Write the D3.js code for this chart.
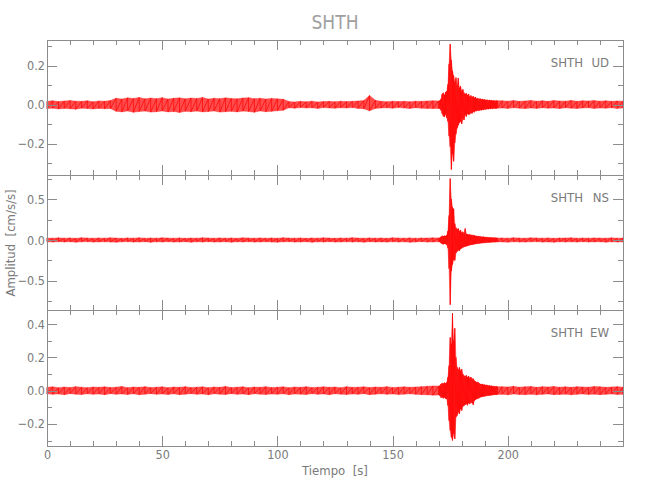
<!DOCTYPE html>
<html>
<head>
<meta charset="utf-8">
<script src="https://cdn.jsdelivr.net/npm/d3@7"></script>
<style>
  body { margin: 0; background: #fff; }
  svg text { font-family: "DejaVu Sans Condensed", "DejaVu Sans", sans-serif; font-stretch: condensed; fill: #7a7a7a; }
  .axis path, .axis line { stroke: #8c8c8c; shape-rendering: crispEdges; }
</style>
</head>
<body>
<div id="chart"></div>
<script>
// Time grid (s): coarse before the event, fine through it, coarse after
const timeBefore = d3.range(0, 170, 2.5);
const timeEvent = d3.range(170, 196, 0.5);
const timeAfter = d3.range(197.5, 250.1, 2.5);
const times = timeBefore.concat(timeEvent, timeAfter);

const station = "SHTH";
const components = ["UD", "NS", "EW"];

// Envelope of each trace (cm/s/s), upper and lower
const udUpper = [
  0.018,0.021,0.017,0.020,0.022,0.019,0.018,0.021,0.016,0.020,0.019,0.022,
  0.034,0.030,0.036,0.033,0.038,0.031,0.035,0.032,0.037,0.030,0.034,0.036,0.031,0.035,0.033,
  0.038,0.030,0.034,0.032,0.036,0.033,0.031,0.035,0.037,0.032,0.034,0.030,0.033,0.031,0.029,
  0.017,0.015,0.018,0.016,0.019,0.015,0.017,0.018,0.016,0.019,0.017,0.018,0.020,0.022,0.048,
  0.024,0.018,0.016,0.019,0.017,0.018,0.016,0.019,0.018,0.020,0.021,
  // event
  0.020,0.022,0.030,0.055,0.062,0.050,0.066,0.070,0.105,0.210,
  0.312,0.230,0.175,0.150,0.118,0.140,0.100,0.138,0.088,0.096,
  0.072,0.080,0.062,0.055,0.060,0.050,0.056,0.042,0.048,0.040,
  0.044,0.036,0.040,0.032,0.034,0.030,0.032,0.028,0.030,0.026,
  0.028,0.024,0.026,0.023,0.025,0.022,0.024,0.021,0.023,0.020,
  0.022,0.021,
  // after
  0.021,0.019,0.022,0.018,0.020,0.023,0.019,0.021,0.018,0.022,0.020,
  0.019,0.023,0.018,0.021,0.020,0.022,0.019,0.021,0.018,0.020,0.019
];
const udLower = [
  -0.019,-0.017,-0.021,-0.018,-0.020,-0.022,-0.017,-0.019,-0.021,-0.018,-0.020,-0.019,
  -0.033,-0.036,-0.031,-0.038,-0.034,-0.032,-0.037,-0.035,-0.031,-0.036,-0.034,-0.039,-0.033,-0.035,-0.032,
  -0.036,-0.034,-0.031,-0.037,-0.035,-0.033,-0.036,-0.032,-0.034,-0.038,-0.031,-0.035,-0.033,-0.030,-0.028,
  -0.015,-0.017,-0.014,-0.016,-0.015,-0.018,-0.014,-0.016,-0.017,-0.015,-0.016,-0.014,-0.018,-0.020,-0.030,
  -0.018,-0.016,-0.015,-0.017,-0.014,-0.016,-0.018,-0.015,-0.017,-0.018,-0.019,
  -0.018,-0.020,-0.028,-0.045,-0.058,-0.062,-0.050,-0.066,-0.085,-0.160,
  -0.215,-0.332,-0.250,-0.290,-0.195,-0.150,-0.120,-0.105,-0.092,-0.085,
  -0.098,-0.070,-0.078,-0.052,-0.060,-0.046,-0.050,-0.048,-0.040,-0.044,
  -0.035,-0.038,-0.030,-0.032,-0.028,-0.030,-0.026,-0.028,-0.024,-0.026,
  -0.022,-0.024,-0.020,-0.022,-0.019,-0.021,-0.018,-0.020,-0.017,-0.019,
  -0.018,-0.017,
  -0.016,-0.018,-0.015,-0.017,-0.019,-0.016,-0.018,-0.015,-0.017,-0.016,-0.019,
  -0.015,-0.017,-0.018,-0.016,-0.015,-0.018,-0.016,-0.017,-0.015,-0.018,-0.016
];

const nsUpper = [
  0.024,0.021,0.026,0.022,0.025,0.020,0.027,0.023,0.021,0.025,
  0.022,0.026,0.023,0.020,0.025,0.022,0.027,0.021,0.024,0.022,
  0.026,0.023,0.021,0.025,0.020,0.024,0.022,0.027,0.023,0.021,
  0.025,0.022,0.024,0.020,0.026,0.023,0.021,0.025,0.022,0.024,
  0.021,0.027,0.023,0.022,0.025,0.020,0.024,0.022,0.026,0.023,
  0.021,0.024,0.022,0.028,0.023,0.021,0.025,0.022,0.024,0.020,
  0.026,0.023,0.022,0.025,0.021,0.024,0.023,0.026,
  0.024,0.026,0.040,0.050,0.046,0.052,0.048,0.060,0.110,0.300,
  0.750,0.500,0.400,0.380,0.200,0.150,0.130,0.140,0.110,0.120,
  0.090,0.100,0.080,0.140,0.075,0.070,0.065,0.068,0.060,0.062,
  0.055,0.058,0.050,0.048,0.045,0.047,0.042,0.040,0.038,0.040,
  0.035,0.036,0.033,0.032,0.030,0.031,0.028,0.029,0.027,0.028,
  0.026,0.025,
  0.025,0.022,0.027,0.023,0.021,0.026,0.024,0.022,0.025,0.020,0.024,
  0.023,0.026,0.021,0.024,0.022,0.025,0.023,0.021,0.026,0.022,0.024
];
const nsLower = [
  -0.022,-0.025,-0.020,-0.024,-0.021,-0.026,-0.022,-0.020,-0.025,-0.023,
  -0.021,-0.024,-0.026,-0.022,-0.020,-0.025,-0.023,-0.021,-0.027,-0.022,
  -0.024,-0.020,-0.025,-0.023,-0.021,-0.026,-0.022,-0.024,-0.020,-0.025,
  -0.023,-0.021,-0.026,-0.022,-0.024,-0.020,-0.025,-0.023,-0.021,-0.024,
  -0.026,-0.022,-0.020,-0.025,-0.023,-0.021,-0.027,-0.022,-0.024,-0.020,
  -0.025,-0.023,-0.021,-0.024,-0.022,-0.026,-0.020,-0.024,-0.023,-0.025,
  -0.021,-0.024,-0.022,-0.026,-0.023,-0.020,-0.025,-0.024,
  -0.022,-0.025,-0.038,-0.048,-0.052,-0.045,-0.050,-0.058,-0.100,-0.350,
  -0.790,-0.380,-0.300,-0.240,-0.250,-0.160,-0.140,-0.125,-0.130,-0.110,
  -0.100,-0.090,-0.085,-0.080,-0.075,-0.070,-0.068,-0.062,-0.060,-0.056,
  -0.055,-0.050,-0.048,-0.046,-0.044,-0.042,-0.040,-0.038,-0.037,-0.035,
  -0.034,-0.033,-0.031,-0.030,-0.029,-0.028,-0.027,-0.026,-0.025,-0.026,
  -0.024,-0.023,
  -0.023,-0.026,-0.021,-0.024,-0.025,-0.022,-0.020,-0.025,-0.023,-0.026,-0.021,
  -0.024,-0.022,-0.025,-0.020,-0.024,-0.023,-0.021,-0.026,-0.022,-0.024,-0.023
];

const ewUpper = [
  0.020,0.023,0.018,0.022,0.019,0.024,0.021,0.018,0.022,0.020,
  0.023,0.019,0.021,0.025,0.018,0.022,0.020,0.024,0.019,0.021,
  0.023,0.018,0.022,0.020,0.024,0.019,0.021,0.023,0.018,0.022,
  0.020,0.025,0.019,0.021,0.023,0.018,0.022,0.020,0.024,0.019,
  0.021,0.023,0.018,0.022,0.020,0.024,0.019,0.021,0.023,0.020,
  0.022,0.018,0.024,0.020,0.021,0.023,0.019,0.022,0.020,0.024,
  0.019,0.021,0.023,0.020,0.022,0.024,0.026,0.028,
  0.028,0.030,0.040,0.045,0.042,0.048,0.044,0.050,0.080,0.150,
  0.320,0.280,0.465,0.300,0.375,0.200,0.140,0.125,0.140,0.120,
  0.130,0.100,0.090,0.085,0.092,0.080,0.088,0.075,0.082,0.070,
  0.072,0.060,0.055,0.050,0.052,0.045,0.040,0.038,0.040,0.035,
  0.036,0.033,0.034,0.030,0.031,0.028,0.029,0.026,0.027,0.025,
  0.026,0.024,
  0.024,0.022,0.026,0.021,0.023,0.025,0.020,0.024,0.022,0.025,0.021,
  0.023,0.020,0.024,0.022,0.021,0.025,0.023,0.020,0.022,0.024,0.021
];
const ewLower = [
  -0.019,-0.022,-0.020,-0.024,-0.018,-0.021,-0.023,-0.019,-0.022,-0.020,
  -0.024,-0.018,-0.022,-0.020,-0.023,-0.019,-0.025,-0.021,-0.018,-0.022,
  -0.020,-0.023,-0.019,-0.024,-0.021,-0.018,-0.022,-0.020,-0.025,-0.019,
  -0.021,-0.023,-0.018,-0.022,-0.020,-0.024,-0.019,-0.021,-0.023,-0.020,
  -0.022,-0.019,-0.024,-0.020,-0.021,-0.023,-0.018,-0.022,-0.020,-0.024,
  -0.019,-0.021,-0.023,-0.020,-0.022,-0.018,-0.024,-0.021,-0.019,-0.022,
  -0.020,-0.023,-0.021,-0.019,-0.022,-0.024,-0.025,-0.027,
  -0.026,-0.030,-0.042,-0.040,-0.046,-0.042,-0.048,-0.050,-0.090,-0.180,
  -0.240,-0.280,-0.300,-0.260,-0.290,-0.160,-0.150,-0.130,-0.140,-0.110,
  -0.120,-0.095,-0.090,-0.085,-0.080,-0.088,-0.075,-0.080,-0.070,-0.075,
  -0.085,-0.060,-0.055,-0.050,-0.048,-0.045,-0.040,-0.038,-0.036,-0.035,
  -0.034,-0.032,-0.031,-0.030,-0.029,-0.028,-0.027,-0.026,-0.025,-0.024,
  -0.025,-0.023,
  -0.022,-0.025,-0.020,-0.023,-0.024,-0.021,-0.025,-0.022,-0.020,-0.024,-0.023,
  -0.021,-0.025,-0.022,-0.020,-0.023,-0.021,-0.024,-0.022,-0.020,-0.023,-0.022
];

// Axis ranges and ticks per panel
const yDomains = [[-0.36, 0.333], [-0.854, 0.793], [-0.333, 0.485]];
const yMajor = [[-0.2, 0, 0.2], [-0.5, 0, 0.5], [-0.2, 0, 0.2, 0.4]];
const yMinor = [[-0.3, -0.1, 0.1, 0.3], [-0.75, -0.25, 0.25, 0.75], [-0.3, -0.1, 0.1, 0.3]];
const xMajor = [0, 50, 100, 150, 200];
const xMinor = [10, 20, 30, 40, 60, 70, 80, 90, 110, 120, 130, 140, 160, 170, 180, 190, 210, 220, 230, 240];

const uppers = [udUpper, nsUpper, ewUpper];
const lowers = [udLower, nsLower, ewLower];

const width = 650, height = 500;
const left = 47, right = 623;
const panelTops = [40, 175, 310];
const panelBottoms = [175, 310, 446];

const svg = d3.select("#chart").append("svg")
    .attr("width", width)
    .attr("height", height);

const x = d3.scaleLinear().domain([0, 250]).range([left, right]);
const fmt = d3.format(".1f");

components.forEach(function (comp, i) {
    const top = panelTops[i], bottom = panelBottoms[i];
    const y = d3.scaleLinear().domain(yDomains[i]).range([bottom, top]);
    const rows = times.map(function (t, k) { return { t: t, hi: uppers[i][k], lo: lowers[i][k] }; });

    const g = svg.append("g");

    // trace envelope
    const area = d3.area()
        .x(function (d) { return x(d.t); })
        .y0(function (d) { return y(d.lo); })
        .y1(function (d) { return y(d.hi); });
    g.append("path")
        .datum(rows)
        .attr("d", area)
        .attr("fill", "#ff2020")
        .attr("fill-opacity", 0.8)
        .attr("stroke", "#ff3030")
        .attr("stroke-opacity", 0.7)
        .attr("stroke-width", 0.6);

    // zigzag through the envelope for a wiggly look
    const zig = [];
    rows.forEach(function (d) { zig.push([d.t, d.hi]); zig.push([d.t, d.lo]); });
    g.append("path")
        .attr("d", d3.line().x(function (p) { return x(p[0]); }).y(function (p) { return y(p[1]); })(zig))
        .attr("fill", "none")
        .attr("stroke", "#ff0000")
        .attr("stroke-width", 0.7);

    // left axis
    g.append("g").attr("class", "axis")
        .attr("transform", "translate(" + left + ",0)")
        .call(d3.axisLeft(y).tickValues(yMajor[i]).tickSize(-10).tickSizeOuter(0).tickPadding(2).tickFormat(fmt))
        .call(function (s) { s.selectAll("text").attr("font-size", 12.5).style("font-family", null); });
    g.append("g").attr("class", "axis")
        .attr("transform", "translate(" + left + ",0)")
        .call(d3.axisLeft(y).tickValues(yMinor[i]).tickSize(-5).tickSizeOuter(0).tickFormat(""));

    // right axis
    g.append("g").attr("class", "axis")
        .attr("transform", "translate(" + right + ",0)")
        .call(d3.axisRight(y).tickValues(yMajor[i]).tickSize(-10).tickSizeOuter(0).tickFormat(""));
    g.append("g").attr("class", "axis")
        .attr("transform", "translate(" + right + ",0)")
        .call(d3.axisRight(y).tickValues(yMinor[i]).tickSize(-5).tickSizeOuter(0).tickFormat(""));

    // top and bottom axes
    g.append("g").attr("class", "axis")
        .attr("transform", "translate(0," + top + ")")
        .call(d3.axisTop(x).tickValues(xMajor).tickSize(-10).tickSizeOuter(0).tickFormat(""));
    g.append("g").attr("class", "axis")
        .attr("transform", "translate(0," + top + ")")
        .call(d3.axisTop(x).tickValues(xMinor).tickSize(-5).tickSizeOuter(0).tickFormat(""));
    const bx = g.append("g").attr("class", "axis")
        .attr("transform", "translate(0," + bottom + ")")
        .call(d3.axisBottom(x).tickValues(xMajor).tickSize(-10).tickSizeOuter(0).tickPadding(4)
            .tickFormat(i === 2 ? d3.format("d") : ""));
    bx.selectAll("text").attr("font-size", 12.5).style("font-family", null);
    g.append("g").attr("class", "axis")
        .attr("transform", "translate(0," + bottom + ")")
        .call(d3.axisBottom(x).tickValues(xMinor).tickSize(-5).tickSizeOuter(0).tickFormat(""));

    // panel label
    g.append("text")
        .attr("x", 583).attr("y", top + 27)
        .attr("text-anchor", "end")
        .attr("font-size", 13)
        .text(station);
    g.append("text")
        .attr("x", 609).attr("y", top + 27)
        .attr("text-anchor", "end")
        .attr("font-size", 13)
        .text(comp);
});

svg.selectAll(".axis text").style("fill", "#7a7a7a");

// title and axis labels
svg.append("text")
    .attr("x", (left + right) / 2).attr("y", 29)
    .attr("text-anchor", "middle")
    .attr("font-size", 19)
    .style("fill", "#a0a0a0")
    .text(station);

svg.append("text")
    .attr("x", (left + right) / 2).attr("y", 475)
    .attr("text-anchor", "middle")
    .attr("font-size", 13)
    .style("white-space", "pre")
    .text("Tiempo  [s]");

svg.append("text")
    .attr("transform", "translate(15,243) rotate(-90)")
    .attr("text-anchor", "middle")
    .attr("font-size", 13)
    .style("white-space", "pre")
    .text("Amplitud  [cm/s/s]");
</script>
</body>
</html>
